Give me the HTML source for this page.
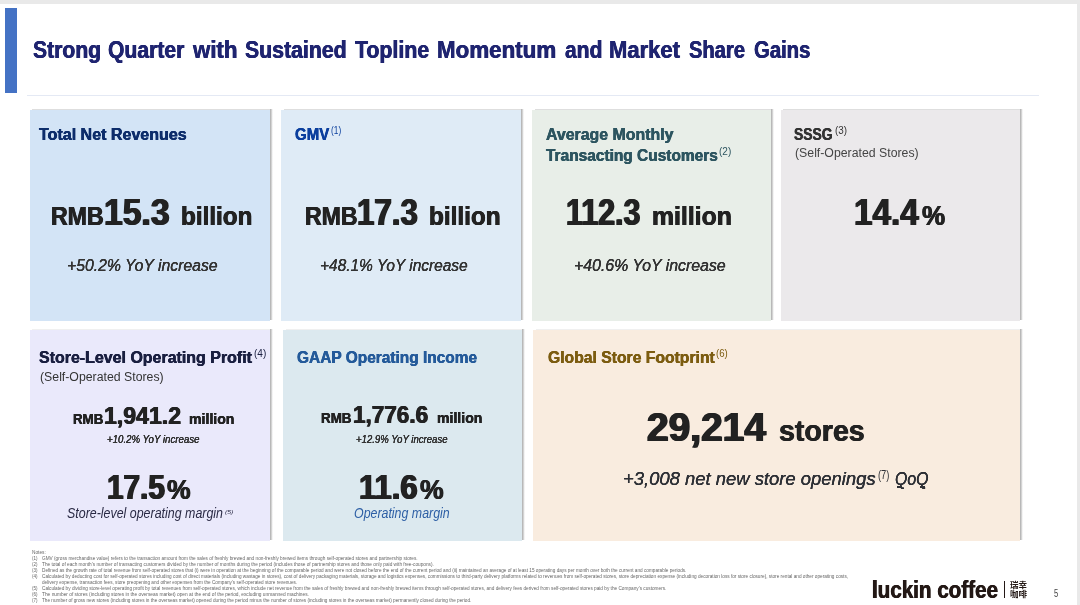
<!DOCTYPE html>
<html lang="en"><head><meta charset="utf-8"><title>Strong Quarter with Sustained Topline Momentum and Market Share Gains</title>
<style>
html,body{margin:0;padding:0;}
body{width:1080px;height:605px;position:relative;overflow:hidden;background:#fff;font-family:"Liberation Sans","Noto Sans CJK SC",sans-serif;}
.t{position:absolute;white-space:nowrap;line-height:1;transform-origin:0 0;display:block;}
.card{position:absolute;}
.sr{position:absolute;left:100%;top:-1px;bottom:0.4px;width:3px;background:linear-gradient(to right,rgba(0,0,0,.29) 0,rgba(0,0,0,.27) 30%,rgba(0,0,0,.15) 55%,rgba(0,0,0,.04) 85%,rgba(0,0,0,0) 100%);}
.st{position:absolute;left:2.6px;right:0;top:-1px;height:1px;background:rgba(0,0,0,.13);}
.n{position:absolute;white-space:nowrap;line-height:1;transform-origin:0 0;font-size:5.0px;color:#666666;}
h1,sup{margin:0;font:inherit;vertical-align:baseline;}
.b{font-weight:bold;}
.i{font-style:italic;}
.edge-top{position:absolute;left:0;top:0;width:1080px;height:3.6px;background:#e9e9e9;}
.edge-right{position:absolute;left:1077px;top:0;width:3px;height:605px;background:#e9e9e9;}
.accent{position:absolute;left:5px;top:8.3px;width:12px;height:84.6px;background:#4472c4;}
.rule{position:absolute;left:27.4px;top:94.6px;width:1011.6px;height:1.3px;background:#e4e9f4;}
.q{position:absolute;top:486.3px;width:5.2px;height:1.3px;background:#2e3036;}
.vbar{position:absolute;left:1003.7px;top:580.8px;width:1.3px;height:17.2px;background:#231815;}
.cjk{font-size:8.5px;color:#231815;}
</style></head><body>
<div class="edge-top"></div>
<div class="edge-right"></div>
<header>
<div class="accent"></div>
<div class="rule"></div>

<h1 class="title">
<span class="t b" style="left:32.67px;top:39px;font-size:23.3px;color:#1f2470;transform:scaleX(0.9070);text-shadow:0.41px 0 0 #1f2470,-0.41px 0 0 #1f2470;">Strong</span>
<span class="t b" style="left:108.37px;top:39px;font-size:23.3px;color:#1f2470;transform:scaleX(0.9069);text-shadow:0.41px 0 0 #1f2470,-0.41px 0 0 #1f2470;">Quarter</span>
<span class="t b" style="left:193.32px;top:39px;font-size:23.3px;color:#1f2470;transform:scaleX(0.9549);text-shadow:0.39px 0 0 #1f2470,-0.39px 0 0 #1f2470;">with</span>
<span class="t b" style="left:245.37px;top:39px;font-size:23.3px;color:#1f2470;transform:scaleX(0.9129);text-shadow:0.41px 0 0 #1f2470,-0.41px 0 0 #1f2470;">Sustained</span>
<span class="t b" style="left:354.87px;top:39px;font-size:23.3px;color:#1f2470;transform:scaleX(0.9152);text-shadow:0.40px 0 0 #1f2470,-0.40px 0 0 #1f2470;">Topline</span>
<span class="t b" style="left:437.41px;top:39px;font-size:23.3px;color:#1f2470;transform:scaleX(0.9590);text-shadow:0.39px 0 0 #1f2470,-0.39px 0 0 #1f2470;">Momentum</span>
<span class="t b" style="left:564.62px;top:39px;font-size:23.3px;color:#1f2470;transform:scaleX(0.9023);text-shadow:0.41px 0 0 #1f2470,-0.41px 0 0 #1f2470;">and</span>
<span class="t b" style="left:608.92px;top:39px;font-size:23.3px;color:#1f2470;transform:scaleX(0.9451);text-shadow:0.39px 0 0 #1f2470,-0.39px 0 0 #1f2470;">Market</span>
<span class="t b" style="left:689.12px;top:39px;font-size:23.3px;color:#1f2470;transform:scaleX(0.8645);text-shadow:0.43px 0 0 #1f2470,-0.43px 0 0 #1f2470;">Share</span>
<span class="t b" style="left:754.12px;top:39px;font-size:23.3px;color:#1f2470;transform:scaleX(0.8703);text-shadow:0.43px 0 0 #1f2470,-0.43px 0 0 #1f2470;">Gains</span>
</h1>
</header>
<main>
<section>
<div class="card" style="left:29.6px;top:110px;width:240.40px;height:210.60px;background:#d3e4f6"><i class="sr"></i><i class="st" style="background:rgba(0,0,0,0.13)"></i></div>
<span class="t b" style="left:39.28px;top:126px;font-size:17.2px;color:#0d2d6b;transform:scaleX(0.9335);text-shadow:0.30px 0 0 #0d2d6b,-0.30px 0 0 #0d2d6b;">Total Net Revenues</span>
<span class="t b" style="left:51.00px;top:204px;font-size:25.4px;color:#222222;transform:scaleX(0.9114);text-shadow:0.45px 0 0 #222222,-0.45px 0 0 #222222;">RMB</span>
<span class="t b" style="left:104.04px;top:194px;font-size:37.6px;color:#222222;transform:scaleX(0.8961);text-shadow:0.93px 0 0 #222222,-0.93px 0 0 #222222;">15.3</span>
<span class="t b" style="left:181.29px;top:203px;font-size:26px;color:#222222;transform:scaleX(0.9331);text-shadow:0.45px 0 0 #222222,-0.45px 0 0 #222222;">billion</span>
<span class="t i" style="left:67.27px;top:258px;font-size:16px;color:#333333;transform:scaleX(0.9852);text-shadow:0.06px 0 0 #333333,-0.06px 0 0 #333333;">+50.2% YoY increase</span>
</section>
<section>
<div class="card" style="left:281.3px;top:110px;width:239.70px;height:210.60px;background:#dfebf6"><i class="sr"></i><i class="st" style="background:rgba(0,0,0,0.13)"></i></div>
<span class="t b" style="left:295.08px;top:126px;font-size:17.2px;color:#0b3f9e;transform:scaleX(0.8728);text-shadow:0.32px 0 0 #0b3f9e,-0.32px 0 0 #0b3f9e;">GMV</span>
<sup class="t" style="left:330.60px;top:125px;font-size:11.5px;color:#0b3f9e;transform:scaleX(0.7241);">(1)</sup>
<span class="t b" style="left:304.50px;top:204px;font-size:25.4px;color:#222222;transform:scaleX(0.9096);text-shadow:0.45px 0 0 #222222,-0.45px 0 0 #222222;">RMB</span>
<span class="t b" style="left:357.47px;top:194px;font-size:37.6px;color:#222222;transform:scaleX(0.8320);text-shadow:1.00px 0 0 #222222,-1.00px 0 0 #222222;">17.3</span>
<span class="t b" style="left:429.48px;top:203px;font-size:26px;color:#222222;transform:scaleX(0.9357);text-shadow:0.45px 0 0 #222222,-0.45px 0 0 #222222;">billion</span>
<span class="t i" style="left:319.59px;top:258px;font-size:16px;color:#333333;transform:scaleX(0.9662);text-shadow:0.06px 0 0 #333333,-0.06px 0 0 #333333;">+48.1% YoY increase</span>
</section>
<section>
<div class="card" style="left:532.3px;top:110px;width:238.70px;height:210.60px;background:#e8eee8"><i class="sr"></i><i class="st" style="background:rgba(0,0,0,0.13)"></i></div>
<span class="t b" style="left:545.88px;top:126px;font-size:17.2px;color:#2d5560;transform:scaleX(0.9245);text-shadow:0.30px 0 0 #2d5560,-0.30px 0 0 #2d5560;">Average Monthly</span>
<span class="t b" style="left:545.88px;top:147px;font-size:17.2px;color:#2d5560;transform:scaleX(0.8996);text-shadow:0.31px 0 0 #2d5560,-0.31px 0 0 #2d5560;">Transacting Customers</span>
<sup class="t" style="left:718.80px;top:146px;font-size:11.5px;color:#2d5560;transform:scaleX(0.8717);">(2)</sup>
<span class="t b" style="left:566.36px;top:195px;font-size:36.8px;color:#222222;transform:scaleX(0.8264);text-shadow:0.98px 0 0 #222222,-0.98px 0 0 #222222;">112.3</span>
<span class="t b" style="left:651.77px;top:203px;font-size:26px;color:#222222;transform:scaleX(0.9532);text-shadow:0.44px 0 0 #222222,-0.44px 0 0 #222222;">million</span>
<span class="t i" style="left:573.57px;top:258px;font-size:16px;color:#333333;transform:scaleX(0.9924);text-shadow:0.06px 0 0 #333333,-0.06px 0 0 #333333;">+40.6% YoY increase</span>
</section>
<section>
<div class="card" style="left:780.7px;top:110px;width:239.30px;height:210.60px;background:#ebe9eb"><i class="sr"></i><i class="st" style="background:rgba(0,0,0,0.13)"></i></div>
<span class="t b" style="left:794.48px;top:126px;font-size:17.2px;color:#333333;transform:scaleX(0.8069);text-shadow:0.35px 0 0 #333333,-0.35px 0 0 #333333;">SSSG</span>
<sup class="t" style="left:835.00px;top:125px;font-size:11.5px;color:#333333;transform:scaleX(0.8576);">(3)</sup>
<span class="t" style="left:794.50px;top:147px;font-size:12.5px;color:#444444;transform:scaleX(0.9834);">(Self-Operated Stores)</span>
<span class="t b" style="left:853.50px;top:195px;font-size:36.8px;color:#222222;transform:scaleX(0.9035);text-shadow:0.90px 0 0 #222222,-0.90px 0 0 #222222;">14.4</span>
<span class="t b" style="left:921.70px;top:202px;font-size:27.9px;color:#222222;transform:scaleX(0.9340);text-shadow:0.48px 0 0 #222222,-0.48px 0 0 #222222;">%</span>
</section>
<section>
<div class="card" style="left:29.6px;top:330px;width:240.40px;height:210.60px;background:#eae9fb"><i class="sr"></i><i class="st" style="background:rgba(0,0,0,0.06)"></i></div>
<span class="t b" style="left:39.08px;top:349px;font-size:17.4px;color:#1a1f40;transform:scaleX(0.9182);text-shadow:0.30px 0 0 #1a1f40,-0.30px 0 0 #1a1f40;">Store-Level Operating Profit</span>
<sup class="t" style="left:253.75px;top:348px;font-size:11.5px;color:#1a1f40;transform:scaleX(0.8752);">(4)</sup>
<span class="t" style="left:39.50px;top:371px;font-size:12.5px;color:#333333;transform:scaleX(0.9834);">(Self-Operated Stores)</span>
<span class="t b" style="left:72.57px;top:411px;font-size:15.3px;color:#222222;transform:scaleX(0.8707);text-shadow:0.28px 0 0 #222222,-0.28px 0 0 #222222;">RMB</span>
<span class="t b" style="left:104.02px;top:405px;font-size:23.4px;color:#222222;transform:scaleX(0.9863);text-shadow:0.52px 0 0 #222222,-0.52px 0 0 #222222;">1,941.2</span>
<span class="t b" style="left:188.74px;top:411px;font-size:15px;color:#222222;transform:scaleX(0.9408);text-shadow:0.26px 0 0 #222222,-0.26px 0 0 #222222;">million</span>
<span class="t i" style="left:107.25px;top:434px;font-size:10.5px;color:#333333;transform:scaleX(0.9221);text-shadow:0.05px 0 0 #333333,-0.05px 0 0 #333333;">+10.2% YoY increase</span>
<span class="t b" style="left:106.96px;top:470px;font-size:34.9px;color:#222222;transform:scaleX(0.8528);text-shadow:0.90px 0 0 #222222,-0.90px 0 0 #222222;">17.5</span>
<span class="t b" style="left:166.95px;top:476px;font-size:27.9px;color:#222222;transform:scaleX(0.9520);text-shadow:0.47px 0 0 #222222,-0.47px 0 0 #222222;">%</span>
<span class="t i" style="left:67.40px;top:507px;font-size:13.8px;color:#2a2a45;transform:scaleX(0.9001);">Store-level operating margin</span>
<sup class="t i" style="left:225.10px;top:509px;font-size:6px;color:#2a2a45;transform:scaleX(1.1316);">(5)</sup>
</section>
<section>
<div class="card" style="left:283px;top:330px;width:239.00px;height:210.60px;background:#dce9ef"><i class="sr"></i><i class="st" style="background:rgba(0,0,0,0.06)"></i></div>
<span class="t b" style="left:297.28px;top:349px;font-size:17.4px;color:#245a9a;transform:scaleX(0.8890);text-shadow:0.31px 0 0 #245a9a,-0.31px 0 0 #245a9a;">GAAP Operating Income</span>
<span class="t b" style="left:321.16px;top:410px;font-size:15.3px;color:#222222;transform:scaleX(0.8766);text-shadow:0.27px 0 0 #222222,-0.27px 0 0 #222222;">RMB</span>
<span class="t b" style="left:352.65px;top:404px;font-size:23.4px;color:#222222;transform:scaleX(0.9630);text-shadow:0.53px 0 0 #222222,-0.53px 0 0 #222222;">1,776.6</span>
<span class="t b" style="left:437.04px;top:410px;font-size:15px;color:#222222;transform:scaleX(0.9388);text-shadow:0.26px 0 0 #222222,-0.26px 0 0 #222222;">million</span>
<span class="t i" style="left:356.15px;top:434px;font-size:10.5px;color:#333333;transform:scaleX(0.9122);text-shadow:0.05px 0 0 #333333,-0.05px 0 0 #333333;">+12.9% YoY increase</span>
<span class="t b" style="left:358.99px;top:470px;font-size:34.9px;color:#222222;transform:scaleX(0.8881);text-shadow:0.87px 0 0 #222222,-0.87px 0 0 #222222;">11.6</span>
<span class="t b" style="left:419.70px;top:476px;font-size:27.9px;color:#222222;transform:scaleX(0.9540);text-shadow:0.47px 0 0 #222222,-0.47px 0 0 #222222;">%</span>
<span class="t i" style="left:354.00px;top:507px;font-size:13.8px;color:#2d5fa5;transform:scaleX(0.8978);">Operating margin</span>
</section>
<section>
<div class="card" style="left:533px;top:330px;width:487.00px;height:210.60px;background:#f9ecdf"><i class="sr"></i><i class="st" style="background:rgba(0,0,0,0.06)"></i></div>
<span class="t b" style="left:547.78px;top:349px;font-size:17.4px;color:#7c5c10;transform:scaleX(0.9037);text-shadow:0.31px 0 0 #7c5c10,-0.31px 0 0 #7c5c10;">Global Store Footprint</span>
<sup class="t" style="left:716.25px;top:348px;font-size:11.5px;color:#7c5c10;transform:scaleX(0.8401);">(6)</sup>
<span class="t b" style="left:646.63px;top:408px;font-size:40.3px;color:#222222;transform:scaleX(0.9648);text-shadow:0.92px 0 0 #222222,-0.92px 0 0 #222222;">29,214</span>
<span class="t b" style="left:778.83px;top:416px;font-size:30px;color:#222222;transform:scaleX(0.9511);text-shadow:0.50px 0 0 #222222,-0.50px 0 0 #222222;">stores</span>
<span class="t i" style="left:623.38px;top:470px;font-size:18.9px;color:#2e3036;transform:scaleX(0.9758);text-shadow:0.06px 0 0 #2e3036,-0.06px 0 0 #2e3036;">+3,008 net new store openings</span>
<sup class="t" style="left:878.10px;top:469px;font-size:12px;color:#2e3036;transform:scaleX(0.7771);">(7)</sup>
<span class="t i" style="left:894.86px;top:470px;font-size:18.9px;color:#2e3036;transform:scaleX(0.8403);text-shadow:0.07px 0 0 #2e3036,-0.07px 0 0 #2e3036;">QoQ</span>
<i class="q" style="left:896.7px"></i><i class="q" style="left:919.8px"></i>
</section>
</main>
<footer>
<div class="notes">
<span class="n" style="left:32.25px;top:550px;transform:scaleX(0.9494)">Notes:</span>
<span class="n" style="left:32.25px;top:556px;transform:scaleX(0.9)">(1)</span>
<span class="n" style="left:42.25px;top:556px;transform:scaleX(0.9405)">GMV (gross merchandise value) refers to the transaction amount from the sales of freshly brewed and non-freshly brewed items through self-operated stores and partnership stores.</span>
<span class="n" style="left:32.25px;top:562px;transform:scaleX(0.9)">(2)</span>
<span class="n" style="left:42.25px;top:562px;transform:scaleX(0.9471)">The total of each month’s number of transacting customers divided by the number of months during the period (includes those of partnership stores and those only paid with free-coupons).</span>
<span class="n" style="left:32.25px;top:568px;transform:scaleX(0.9)">(3)</span>
<span class="n" style="left:42.25px;top:568px;transform:scaleX(0.9375)">Defined as the growth rate of total revenue from self-operated stores that (i) were in operation at the beginning of the comparable period and were not closed before the end of the current period and (ii) maintained an average of at least 15 operating days per month over both the current and comparable periods.</span>
<span class="n" style="left:32.25px;top:574px;transform:scaleX(0.9)">(4)</span>
<span class="n" style="left:42.25px;top:574px;transform:scaleX(0.9411)">Calculated by deducting cost for self-operated stores including cost of direct materials (including wastage in stores), cost of delivery packaging materials, storage and logistics expenses, commissions to third-party delivery platforms related to revenues from self-operated stores, store depreciation expense (including decoration loss for store closure), store rental and other operating costs,</span>
<span class="n" style="left:42.25px;top:580px;transform:scaleX(0.9322)">delivery expense, transaction fees, store preopening and other expenses from the Company’s self-operated store revenues.</span>
<span class="n" style="left:32.25px;top:586px;transform:scaleX(0.9)">(5)</span>
<span class="n" style="left:42.25px;top:586px;transform:scaleX(0.9441)">Calculated by dividing store-level operating profit by total revenues from self-operated stores, which include net revenue from the sales of freshly brewed and non-freshly brewed items through self-operated stores, and delivery fees derived from self-operated stores paid by the Company’s customers.</span>
<span class="n" style="left:32.25px;top:592px;transform:scaleX(0.9)">(6)</span>
<span class="n" style="left:42.25px;top:592px;transform:scaleX(0.9621)">The number of stores (including stores in the overseas market) open at the end of the period, excluding unmanned machines.</span>
<span class="n" style="left:32.25px;top:598px;transform:scaleX(0.9)">(7)</span>
<span class="n" style="left:42.25px;top:598px;transform:scaleX(0.9363)">The number of gross new stores (including stores in the overseas market) opened during the period minus the number of stores (including stores in the overseas market) permanently closed during the period.</span>
</div>
<div class="logo">
<span class="t b" style="left:871.70px;top:579px;font-size:23.5px;color:#231815;transform:scaleX(0.8770);text-shadow:0.43px 0 0 #231815,-0.43px 0 0 #231815;">luckin coffee</span>
<i class="vbar"></i>
<span class="t b cjk" style="left:1010px;top:580.6px;">瑞幸</span>
<span class="t b cjk" style="left:1010px;top:589.9px;">咖啡</span>
</div>
<span class="t" style="left:1053.50px;top:589px;font-size:10.2px;color:#444444;transform:scaleX(0.7500);">5</span>
</footer>
</body></html>
